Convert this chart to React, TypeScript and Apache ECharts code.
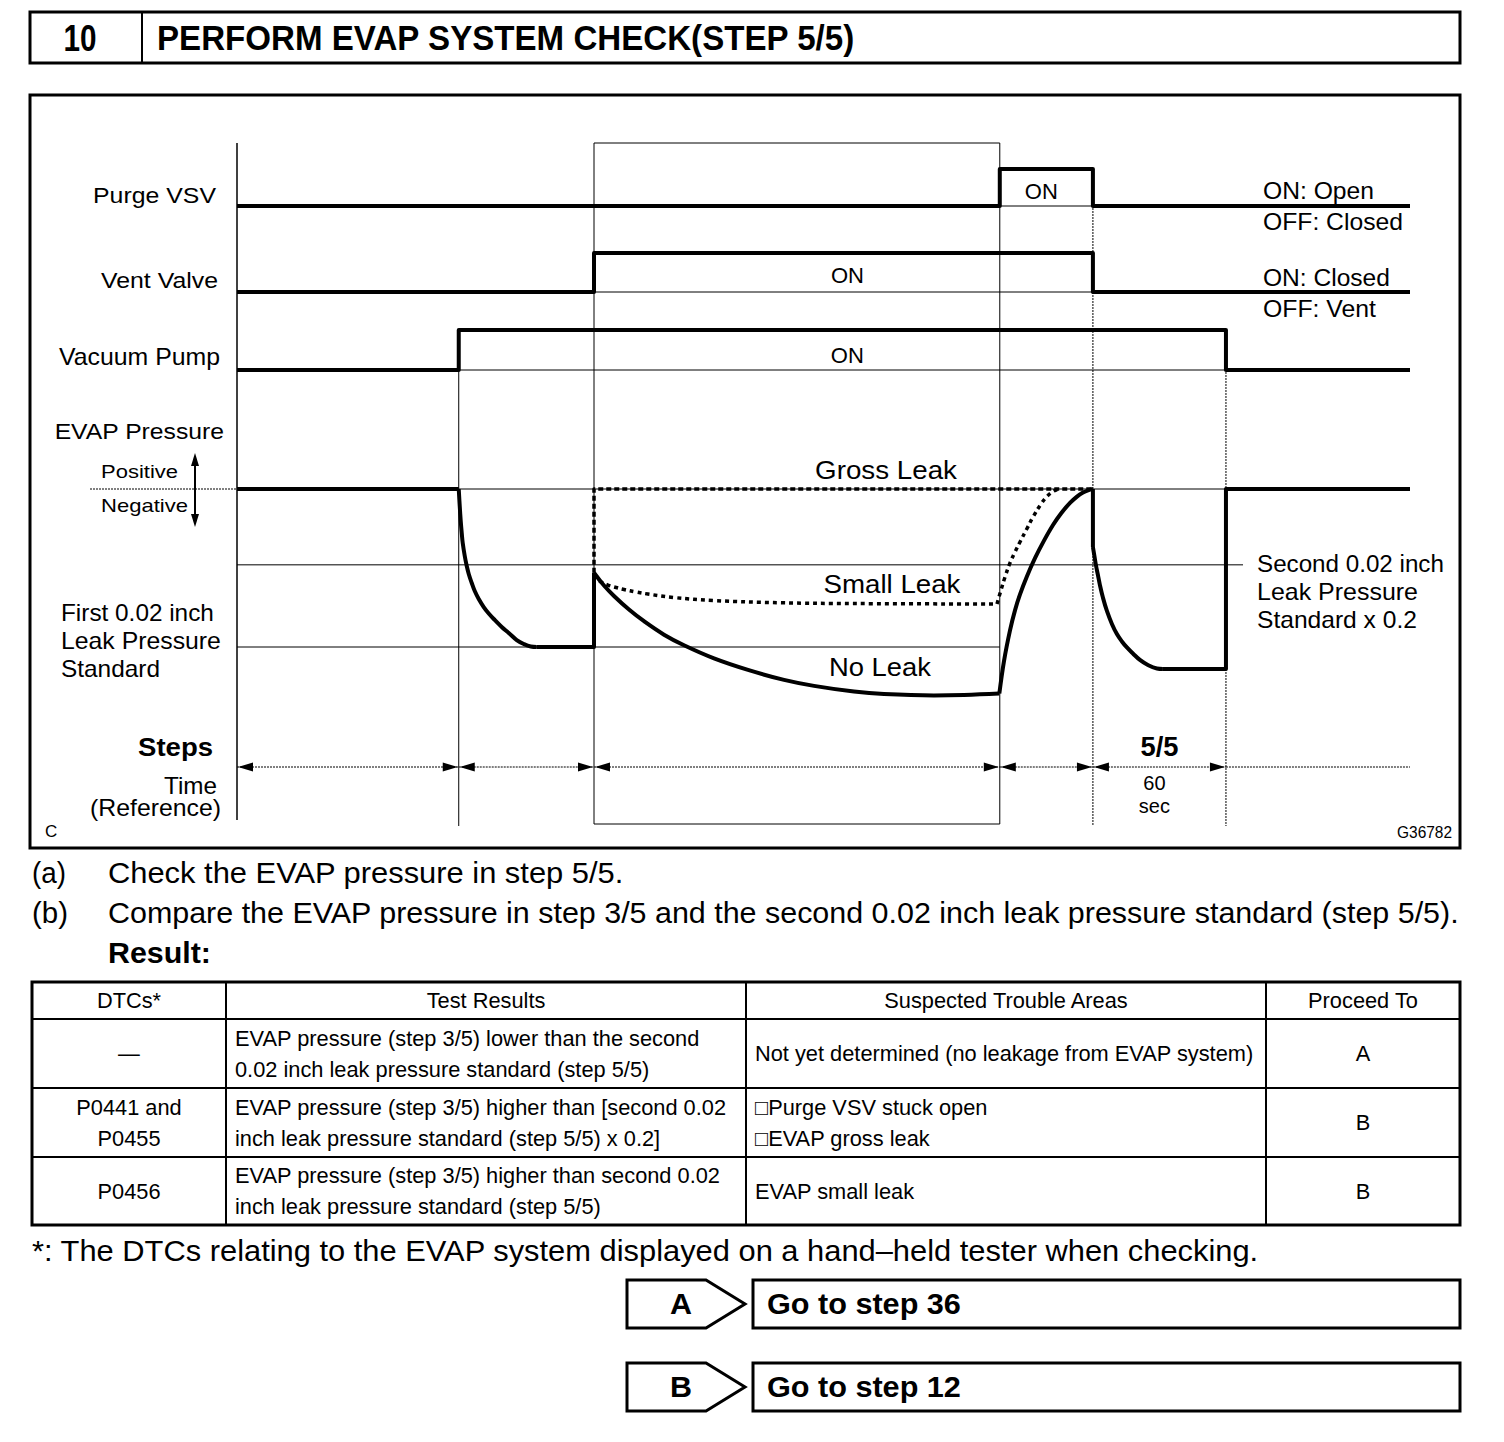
import React, { useEffect, useRef } from "react";
import * as echarts from "echarts";

const FONT = '"Liberation Sans", Arial, Helvetica, sans-serif';

// ---------- DATA ----------
// event times (seconds, reference time axis)
const timeBreaks = [0, 100, 161, 344, 386, 446, 529];
const stepLabel55 = "5/5";
const stepDuration = ["60", "sec"];

// digital signals: [time, state] (1 = ON, 0 = OFF)
const purgeVSV = [[0, 0], [344, 0], [344, 1], [386, 1], [386, 0], [529, 0]];
const ventValve = [[0, 0], [161, 0], [161, 1], [386, 1], [386, 0], [529, 0]];
const vacuumPump = [[0, 0], [100, 0], [100, 1], [446, 1], [446, 0], [529, 0]];

// EVAP pressure (relative units, first 0.02 inch standard = -1)
const evapIdle = [[0, 0], [100, 0]];
const evapPumpDown = [
  [100, 0], [100.45, -0.108], [100.9, -0.203], [101.35, -0.278], [101.8, -0.342], [102.71, -0.424],
  [103.61, -0.487], [104.51, -0.538], [105.86, -0.595], [107.22, -0.646], [109.02, -0.696], [111.27, -0.747],
  [113.53, -0.788], [116.24, -0.829], [119.39, -0.873], [122.55, -0.911], [126.16, -0.956], [129.31, -0.981],
  [132.47, -0.997], [135.18, -1.0],
];
const evapFirstHold = [[135.18, -1.0], [161, -1.0], [161, -0.53]];
const evapNoLeak = [
  [161, -0.53], [165.51, -0.611], [170.02, -0.677], [176.78, -0.763], [183.55, -0.837], [192.57, -0.922],
  [201.59, -0.989], [215.12, -1.072], [230.45, -1.145], [246.69, -1.208], [260.22, -1.246], [278.26, -1.282],
  [291.78, -1.298], [314.33, -1.307], [327.86, -1.304], [343.8, -1.295],
];
const evapRecover = [
  [343.8, -1.295], [345.9, -1.089], [348.61, -0.895], [350.86, -0.768], [353.12, -0.667], [356.27, -0.552],
  [359.88, -0.438], [363.94, -0.327], [368, -0.228], [371.61, -0.155], [375.67, -0.088], [378.82, -0.048],
  [381.53, -0.022], [383.78, -0.008], [386, 0],
];
const evapSecondStart = [[386, 0], [386, -0.367]];
const evapSecondDown = [
  [386, -0.367], [386.68, -0.424], [387.35, -0.481], [388.25, -0.544], [389.16, -0.608], [390.51, -0.687],
  [392.31, -0.772], [394.57, -0.854], [396.82, -0.918], [399.08, -0.965], [401.33, -1.003], [404.04, -1.041],
  [407.2, -1.082], [410.8, -1.114], [414.86, -1.136], [417.57, -1.139],
];
const evapSecondEnd = [[417.57, -1.139], [446, -1.139], [446, 0], [529, 0]];

const evapSmallLeakHold = [
  [161, -0.544], [162.8, -0.573], [164.61, -0.592], [167.31, -0.608], [170.02, -0.62], [174.53, -0.636],
  [179.94, -0.652], [185.35, -0.665], [197.08, -0.687], [215.12, -0.706], [245.33, -0.72], [278.25, -0.725],
  [342.75, -0.728],
];
const evapSmallLeakRise = [
  [342.75, -0.728], [344.55, -0.639], [346.36, -0.557], [348.61, -0.468], [350.87, -0.399], [353.12, -0.335],
  [356.28, -0.25], [358.99, -0.177], [362.59, -0.095], [365.3, -0.047], [368, -0.016], [370.26, 0],
];
const evapGrossLeak = [[161, -0.53], [161, 0], [386, 0]];

// reference levels
const zeroLevel = [[0, 0], [446, 0]];
const firstStdLevel = [[0, -1], [344, -1]];
const secondStdX02Level = [[0, -0.48], [453.7, -0.48]];

// texts
const titleNo = "10";
const titleText = "PERFORM EVAP SYSTEM CHECK(STEP 5/5)";
const tableHeader = ["DTCs*", "Test Results", "Suspected Trouble Areas", "Proceed To"];
const tableRows = [
  [["—"], ["EVAP pressure (step 3/5) lower than the second", "0.02 inch leak pressure standard (step 5/5)"], ["Not yet determined (no leakage from EVAP system)"], ["A"]],
  [["P0441 and", "P0455"], ["EVAP pressure (step 3/5) higher than [second 0.02", "inch leak pressure standard (step 5/5) x 0.2]"], ["□Purge VSV stuck open", "□EVAP gross leak"], ["B"]],
  [["P0456"], ["EVAP pressure (step 3/5) higher than second 0.02", "inch leak pressure standard (step 5/5)"], ["EVAP small leak"], ["B"]],
];
const proceedButtons = [["A", "Go to step 36"], ["B", "Go to step 12"]];

// ---------- helpers ----------
let mCanvas: HTMLCanvasElement | null = null;
function measure(text: string, size: number, weight: string) {
  if (!mCanvas) mCanvas = document.createElement("canvas");
  const ctx = mCanvas.getContext("2d")!;
  ctx.font = `${weight} ${size}px ${FONT}`;
  return ctx.measureText(text).width;
}
function txt(text: string, x: number, y: number, size: number, o: any = {}) {
  const weight = o.weight || "normal";
  const sx = o.w ? o.w / measure(text, size, weight) : o.sx || 1;
  return {
    type: "text", x, y, scaleX: sx, silent: true, z: 10,
    style: { text, x: 0, y: 0, fill: "#000", fontSize: size, fontFamily: FONT, fontWeight: weight, align: o.align || "left", verticalAlign: "middle" },
  };
}
function ln(x1: number, y1: number, x2: number, y2: number, w = 1, dash?: number[]) {
  return { type: "line", silent: true, z: 5, shape: { x1, y1, x2, y2 }, style: { stroke: "#000", lineWidth: w, lineDash: dash || null } };
}
function rect(x: number, y: number, w: number, h: number, lw: number) {
  return { type: "rect", silent: true, z: 5, shape: { x, y, width: w, height: h }, style: { fill: "transparent", stroke: "#000", lineWidth: lw } };
}
function tri(tipX: number, y: number, dir: number) {
  const L = 15, H = 4.5;
  return { type: "polygon", silent: true, z: 6, shape: { points: [[tipX, y], [tipX - dir * L, y - H], [tipX - dir * L, y + H]] }, style: { fill: "#000" } };
}
function onInterval(d: number[][]) {
  const on = d.filter((p) => p[1] === 1).map((p) => p[0]);
  return [[Math.min(...on), 0], [Math.max(...on), 0]];
}

function lineSeries(data: number[][], gi: number, width: number, type: any = "solid", smooth: any = false) {
  return {
    type: "line", data, xAxisIndex: gi, yAxisIndex: gi, symbol: "none", clip: false, silent: true, animation: false,
    smooth,
    lineStyle: { color: "#000", width, type, cap: "butt", join: "round" },
  };
}

const GL = 237, GR = 94;
const SM = 0.4;
const baseOption: any = {
  animation: false,
  backgroundColor: "#fff",
  grid: [
    { left: GL, right: GR, top: 169, height: 37 },
    { left: GL, right: GR, top: 253, height: 39 },
    { left: GL, right: GR, top: 330, height: 40 },
    { left: GL, right: GR, top: 410, height: 316 },
  ],
  xAxis: [0, 1, 2, 3].map((i) => ({ type: "value", gridIndex: i, min: timeBreaks[0], max: timeBreaks[timeBreaks.length - 1], show: false })),
  yAxis: [
    { type: "value", gridIndex: 0, min: 0, max: 1, show: false },
    { type: "value", gridIndex: 1, min: 0, max: 1, show: false },
    { type: "value", gridIndex: 2, min: 0, max: 1, show: false },
    { type: "value", gridIndex: 3, min: -1.5, max: 0.5, show: false },
  ],
  series: [
    lineSeries(onInterval(purgeVSV), 0, 1),
    lineSeries(purgeVSV, 0, 4),
    lineSeries(onInterval(ventValve), 1, 1),
    lineSeries(ventValve, 1, 4),
    lineSeries(onInterval(vacuumPump), 2, 1),
    lineSeries(vacuumPump, 2, 4),
    lineSeries(zeroLevel, 3, 1),
    lineSeries(firstStdLevel, 3, 1),
    lineSeries(secondStdX02Level, 3, 1),
    lineSeries(evapGrossLeak, 3, 3.5, [5, 3]),
    lineSeries(evapSmallLeakHold, 3, 3.5, [4, 4], SM),
    lineSeries(evapSmallLeakRise, 3, 3.5, [4, 4], SM),
    lineSeries(evapIdle, 3, 4),
    lineSeries(evapPumpDown, 3, 4, "solid", SM),
    lineSeries(evapFirstHold, 3, 4),
    lineSeries(evapNoLeak, 3, 4, "solid", SM),
    lineSeries(evapRecover, 3, 4, "solid", SM),
    lineSeries(evapSecondStart, 3, 4),
    lineSeries(evapSecondDown, 3, 4, "solid", SM),
    lineSeries(evapSecondEnd, 3, 4),
  ],
};

function buildGraphics(chart: any) {
  const px = (t: number) => chart.convertToPixel({ xAxisIndex: 3 }, t);
  const py = (gi: number, v: number) => chart.convertToPixel({ yAxisIndex: gi }, v);
  const TB = timeBreaks;
  const g: any[] = [];
  const top = 143, bottom = 824, arrowY = 767;

  // header
  g.push(rect(30, 12, 1430, 51, 3));
  g.push(ln(142, 12, 142, 63, 2));
  g.push(txt(titleNo, 80, 38, 36, { weight: "bold", align: "center", w: 33 }));
  g.push(txt(titleText, 157, 38, 36, { weight: "bold", w: 699 }));

  // chart frame
  g.push(rect(30, 95, 1430, 753, 3));

  // guides
  g.push(ln(px(TB[0]), top, px(TB[0]), 820, 1.5));
  g.push(ln(px(TB[1]), py(2, 1), px(TB[1]), 826, 1));
  g.push(rect(px(TB[2]), top, px(TB[3]) - px(TB[2]), bottom - top, 1));
  g.push(ln(px(TB[4]), py(0, 1), px(TB[4]), 826, 1, [2, 1]));
  g.push(ln(px(TB[5]), py(2, 1), px(TB[5]), 826, 1, [2, 1]));
  g.push(ln(90, py(3, 0), px(TB[0]), py(3, 0), 1, [2, 1]));

  // arrows row
  for (let i = 0; i < 5; i++) {
    const a = px(TB[i]), b = px(TB[i + 1]);
    g.push(ln(a, arrowY, b, arrowY, 1, [2, 1]));
    g.push(tri(a + 1, arrowY, -1));
    g.push(tri(b - 1, arrowY, 1));
  }
  g.push(ln(px(TB[5]), arrowY, px(TB[6]), arrowY, 1, [2, 1]));

  // positive/negative arrow
  g.push(ln(195, 462, 195, 518, 2));
  g.push({ type: "polygon", silent: true, z: 6, shape: { points: [[195, 453], [191, 466], [199, 466]] }, style: { fill: "#000" } });
  g.push({ type: "polygon", silent: true, z: 6, shape: { points: [[195, 527], [191, 514], [199, 514]] }, style: { fill: "#000" } });

  // left labels
  g.push(txt("Purge VSV", 216, 195, 23, { align: "right", w: 123 }));
  g.push(txt("Vent Valve", 218, 280, 23, { align: "right", w: 117 }));
  g.push(txt("Vacuum Pump", 220, 357, 23, { align: "right", w: 161 }));
  g.push(txt("EVAP Pressure", 224, 431, 23, { align: "right", w: 170 }));
  g.push(txt("Positive", 178, 471, 19, { align: "right", w: 77 }));
  g.push(txt("Negative", 188, 505, 19, { align: "right", w: 87 }));
  g.push(txt("First 0.02 inch", 61, 613, 23, { w: 153 }));
  g.push(txt("Leak Pressure", 61, 641, 23, { w: 160 }));
  g.push(txt("Standard", 61, 669, 23, { w: 99 }));
  g.push(txt("Steps", 213, 747, 26, { align: "right", weight: "bold", w: 75 }));
  g.push(txt("Time", 217, 786, 23, { align: "right", w: 53 }));
  g.push(txt("(Reference)", 221, 808, 23, { align: "right", w: 131 }));

  // ON labels
  const mid = (d: number[][]) => { const iv = onInterval(d); return px((iv[0][0] + iv[1][0]) / 2); };
  g.push(txt("ON", mid(purgeVSV) - 5, 191, 22, { align: "center" }));
  g.push(txt("ON", mid(ventValve) + 4, 275, 22, { align: "center" }));
  g.push(txt("ON", mid(vacuumPump) + 5, 355, 22, { align: "center" }));

  // right labels
  g.push(txt("ON: Open", 1263, 191, 23, { w: 111 }));
  g.push(txt("OFF: Closed", 1263, 222, 23, { w: 140 }));
  g.push(txt("ON: Closed", 1263, 278, 23, { w: 127 }));
  g.push(txt("OFF: Vent", 1263, 309, 23, { w: 113 }));
  g.push(txt("Second 0.02 inch", 1257, 564, 23, { w: 187 }));
  g.push(txt("Leak Pressure", 1257, 592, 23, { w: 161 }));
  g.push(txt("Standard x 0.2", 1257, 620, 23, { w: 160 }));

  // curve labels
  g.push(txt("Gross Leak", 886, 470, 26, { align: "center", w: 142 }));
  g.push(txt("Small Leak", 892, 584, 26, { align: "center", w: 137 }));
  g.push(txt("No Leak", 880, 667, 26, { align: "center", w: 102 }));

  // step 5/5
  const m5 = px((TB[4] + TB[5]) / 2);
  g.push(txt(stepLabel55, m5, 747, 27, { align: "center", weight: "bold", w: 38 }));
  g.push(txt(stepDuration[0], m5 - 5, 783, 20, { align: "center" }));
  g.push(txt(stepDuration[1], m5 - 5, 806, 20, { align: "center" }));

  g.push(txt("C", 45, 831, 17));
  g.push(txt("G36782", 1452, 832, 16, { align: "right", w: 55 }));

  // body text
  g.push(txt("(a)", 32, 873, 29, { w: 34 }));
  g.push(txt("Check the EVAP pressure in step 5/5.", 108, 873, 29, { w: 516 }));
  g.push(txt("(b)", 32, 913, 29, { w: 36 }));
  g.push(txt("Compare the EVAP pressure in step 3/5 and the second 0.02 inch leak pressure standard (step 5/5).", 108, 913, 29, { w: 1352 }));
  g.push(txt("Result:", 108, 953, 29, { weight: "bold", w: 103 }));

  // table
  const cols = [32, 226, 746, 1266, 1460];
  const rows = [982, 1019, 1088, 1157, 1225];
  const TS = 22;
  const tsx = 465 / measure(tableRows[0][1][0], TS, "normal");
  g.push(rect(cols[0], rows[0], cols[4] - cols[0], rows[4] - rows[0], 3));
  for (let i = 1; i < 4; i++) g.push(ln(cols[0], rows[i], cols[4], rows[i], 2));
  for (let i = 1; i < 4; i++) g.push(ln(cols[i], rows[0], cols[i], rows[4], 2));
  const aligns = ["center", "left", "left", "center"];
  tableHeader.forEach((h, c) => {
    g.push(txt(h, (cols[c] + cols[c + 1]) / 2, (rows[0] + rows[1]) / 2, TS, { align: "center", sx: tsx }));
  });
  tableRows.forEach((row, r) => {
    const cy = (rows[r + 1] + rows[r + 2]) / 2;
    row.forEach((cell, c) => {
      const x = aligns[c] === "center" ? (cols[c] + cols[c + 1]) / 2 : cols[c] + 9;
      cell.forEach((line, i) => {
        g.push(txt(line, x, cy + (i - (cell.length - 1) / 2) * 31, TS, { align: aligns[c], sx: tsx }));
      });
    });
  });

  g.push(txt("*: The DTCs relating to the EVAP system displayed on a hand–held tester when checking.", 32, 1251, 29, { w: 1228 }));

  // proceed buttons
  proceedButtons.forEach(([k, label], i) => {
    const y0 = 1280 + i * 83, h = 48;
    g.push({ type: "polygon", silent: true, z: 5, shape: { points: [[627, y0], [706, y0], [745, y0 + h / 2], [706, y0 + h], [627, y0 + h]] }, style: { fill: "transparent", stroke: "#000", lineWidth: 3 } });
    g.push(rect(753, y0, 707, h, 3));
    g.push(txt(k, 681, y0 + h / 2, 30, { align: "center", weight: "bold", w: 22 }));
    g.push(txt(label, 767, y0 + h / 2, 30, { weight: "bold", w: 194 }));
  });

  return g;
}

export default function App() {
  const ref = useRef<HTMLDivElement>(null);
  useEffect(() => {
    document.body.style.margin = "0";
    const chart = echarts.init(ref.current!, null, { renderer: "svg" });
    chart.setOption(baseOption);
    chart.setOption({ graphic: { elements: buildGraphics(chart) } });
    return () => chart.dispose();
  }, []);
  return <div ref={ref} style={{ width: 1504, height: 1442 }} />;
}
